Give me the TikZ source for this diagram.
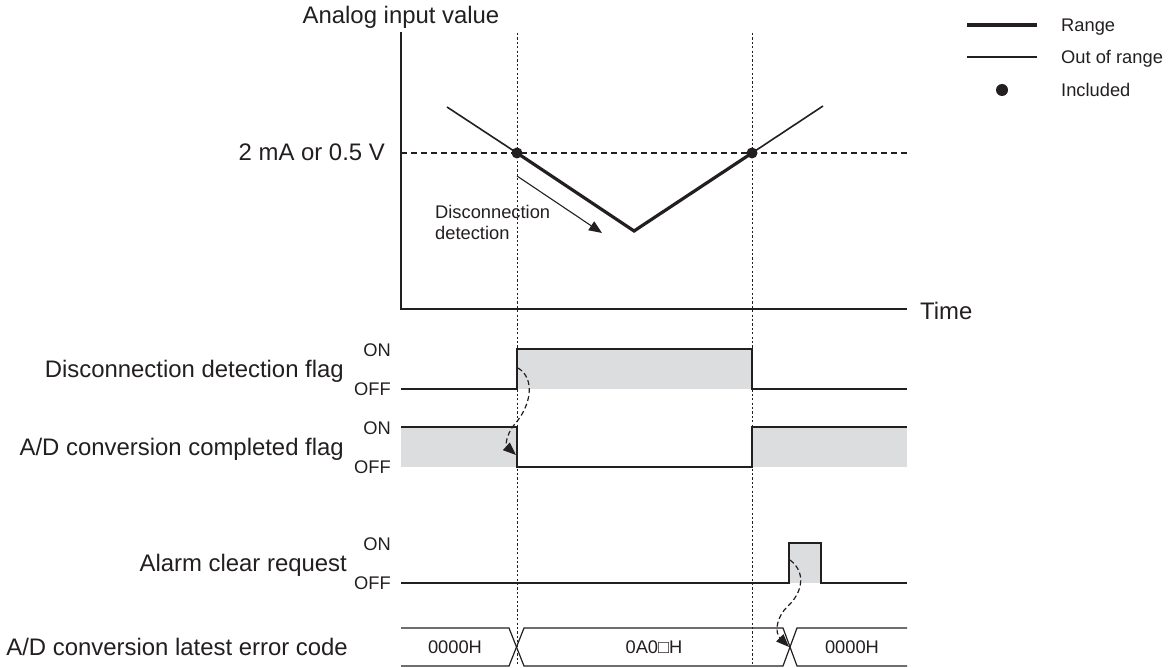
\documentclass[tikz,border=0pt]{standalone}
\usepackage{fontspec}
\setmainfont{Liberation Sans}
\usetikzlibrary{arrows.meta}
\definecolor{shade}{RGB}{220,221,222}
\definecolor{ink}{RGB}{35,31,32}
\begin{document}
\begin{tikzpicture}[x=1pt,y=-1pt,
  big/.style={font=\fontsize{23.9}{28}\selectfont, inner sep=0pt, text=ink},
  small/.style={font=\fontsize{18.3}{21}\selectfont, inner sep=0pt, text=ink},
  guide/.style={draw=ink, line width=0.9pt, dash pattern=on 2.2pt off 2.2pt},
  level/.style={draw=ink, line width=1.1pt, dash pattern=on 6pt off 4pt},
  axisline/.style={draw=ink, line width=1.3pt},
  outline/.style={draw=ink, line width=1.2pt},
  rangeline/.style={draw=ink, line width=3.2pt, line join=miter},
  outline2/.style={draw=ink, line width=1.6pt},
  signal/.style={draw=ink, line width=1.5pt, line join=miter},
  flow/.style={draw=ink, line width=1.2pt, dash pattern=on 5pt off 3pt, -{Triangle[length=13pt,width=10pt]}},
  pointer/.style={draw=ink, line width=1.1pt, -{Triangle[length=13pt,width=10.5pt]}},
  dotmark/.style={circle, fill=ink, inner sep=0pt, minimum size=11pt},
  shaded/.style={fill=shade, draw=none}
]
\useasboundingbox (0,0) rectangle (1169,668);

% ---------- guide lines ----------
\coordinate (g1t) at (517,33);  \coordinate (g1b) at (517,666);
\coordinate (g2t) at (752,33);  \coordinate (g2b) at (752,666);
\draw[guide] (g1t) -- (g1b);
\draw[guide] (g2t) -- (g2b);

% ---------- analog graph ----------
\coordinate (ytop) at (401,32);
\coordinate (orig) at (401,309);
\coordinate (xend) at (907,309);
\draw[axisline] (ytop) -- (orig) -- (xend);
\coordinate (lvlL) at (401,153);
\coordinate (lvlR) at (907,153);
\draw[level] (lvlL) -- (lvlR);

\node[big, anchor=base] (ylab) at (401,24) {Analog input value};
\node[big, anchor=base east] (lvllab) at (385,161) {2 mA or 0.5 V};
\node[big, anchor=base west] (xlab) at (920,319) {Time};

\coordinate (c0) at (447,107);
\coordinate (p1) at (517,153);
\coordinate (cv) at (634,231);
\coordinate (p2) at (752,153);
\coordinate (c3) at (823,106);
\draw[outline2] (c0) -- (p1);
\draw[outline2] (p2) -- (c3);
\draw[rangeline] (p1) -- (cv) -- (p2);
\node[dotmark] (d1) at (p1) {};
\node[dotmark] (d2) at (p2) {};

\coordinate (arS) at (517,176);
\coordinate (arE) at (602,233);
\draw[pointer] (arS) -- (arE);
\node[small, anchor=north west, align=left] (dlab) at (435,205.5) {Disconnection\\detection};

% ---------- legend ----------
\coordinate (lg1a) at (967,25);  \coordinate (lg1b) at (1037,25);
\coordinate (lg2a) at (967,57);  \coordinate (lg2b) at (1037,57);
\draw[rangeline] (lg1a) -- (lg1b);
\draw[outline2] (lg2a) -- (lg2b);
\node[dotmark, minimum size=12pt] (lg3) at (1002,90) {};
\node[small, anchor=base west] (lt1) at (1061,31.5) {Range};
\node[small, anchor=base west] (lt2) at (1061,63.5) {Out of range};
\node[small, anchor=base west] (lt3) at (1061,96.5) {Included};

% ---------- disconnection detection flag ----------
\fill[shaded] (517,349) rectangle (752,389);
\draw[signal] (401,389) -- (517,389) -- (517,349) -- (752,349) -- (752,389) -- (907,389);
\node[big, anchor=base east] (f1lab) at (344,377.5) {Disconnection detection flag};
\node[small, anchor=east] (f1on) at (391,350) {ON};
\node[small, anchor=east] (f1off) at (391,389) {OFF};

% ---------- A/D conversion completed flag ----------
\fill[shaded] (401,427) rectangle (517,467);
\fill[shaded] (752,427) rectangle (907,467);
\draw[signal] (401,427) -- (517,427) -- (517,467) -- (752,467) -- (752,427) -- (907,427);
\node[big, anchor=base east] (f2lab) at (344,455.5) {A/D conversion completed flag};
\node[small, anchor=east] (f2on) at (391,428) {ON};
\node[small, anchor=east] (f2off) at (391,467) {OFF};

% ---------- alarm clear request ----------
\fill[shaded] (789,543) rectangle (821,583);
\draw[signal] (401,583) -- (789,583) -- (789,543) -- (821,543) -- (821,583) -- (907,583);
\node[big, anchor=base east] (f3lab) at (347,571.5) {Alarm clear request};
\node[small, anchor=east] (f3on) at (391,544) {ON};
\node[small, anchor=east] (f3off) at (391,583) {OFF};

% ---------- error code bus ----------
\draw[outline] (401,628) -- (509,628) -- (524,666) -- (783,666) -- (797,628) -- (907,628);
\draw[outline] (401,666) -- (509,666) -- (524,628) -- (783,628) -- (797,666) -- (907,666);
\node[big, anchor=base east] (f4lab) at (348,655.5) {A/D conversion latest error code};
\node[small] (e1) at (455,647) {0000H};
\node[small] (e2) at (654,647) {0A0□H};
\node[small] (e3) at (852,647) {0000H};

% ---------- causal arrows ----------
\coordinate (a1s) at (518,368);
\coordinate (a1e) at (516,455);
\draw[flow] (a1s) .. controls (535,378) and (532,405) .. (514,425) .. controls (505,437) and (506,446) .. (a1e);
\coordinate (a2s) at (790,560);
\coordinate (a2e) at (789,647);
\draw[flow] (a2s) .. controls (806,572) and (803,592) .. (788,606) .. controls (777,616) and (774,632) .. (a2e);
\end{tikzpicture}
\end{document}
